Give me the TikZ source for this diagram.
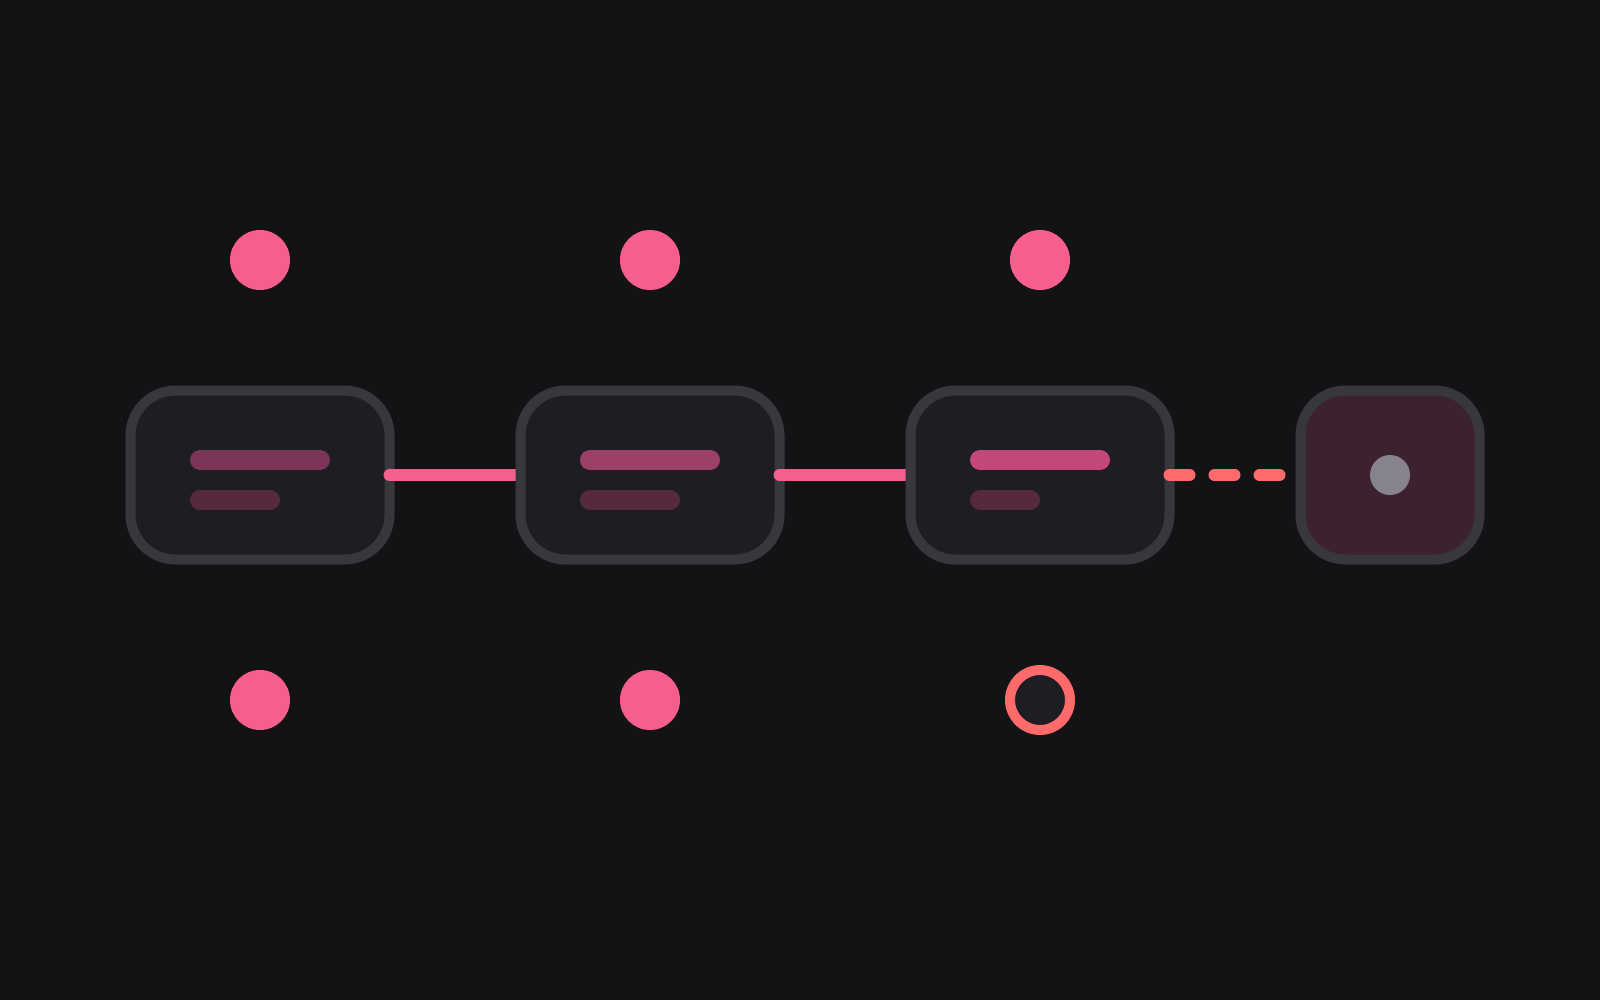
\documentclass[tikz,border=0pt]{standalone}
\usetikzlibrary{positioning}
\definecolor{bgdark}{HTML}{131315}
\definecolor{stagefill}{HTML}{1E1D23}
\definecolor{stageedge}{HTML}{38373D}
\definecolor{goalfill}{HTML}{3C2130}
\definecolor{tokenpink}{HTML}{F65F8C}
\definecolor{linkpink}{HTML}{F45F8B}
\definecolor{coral}{HTML}{FF6B6B}
\definecolor{barlow}{HTML}{7A3558}
\definecolor{barmid}{HTML}{9C4068}
\definecolor{barhigh}{HTML}{C4477C}
\definecolor{barfaint}{HTML}{56293F}
\definecolor{dotgrey}{HTML}{86838D}
\tikzset{
    stage/.style={
        draw=stageedge,
        fill=stagefill,
        line width=10pt,
        rounded corners=45pt,
        minimum width=259pt,
        minimum height=169pt,
        inner sep=0pt,
        outer sep=0pt,
    },
    goal/.style={
        stage,
        fill=goalfill,
        minimum width=179pt,
    },
    bar/.style={line width=20pt, line cap=round},
    link/.style={draw=linkpink, line width=12pt, line cap=round},
    pending/.style={link, draw=coral, dash pattern=on 20pt off 25pt},
    token/.style={
        circle,
        fill=tokenpink,
        minimum size=60pt,
        inner sep=0pt,
        outer sep=0pt,
    },
    ring/.style={
        token,
        fill=stagefill,
        draw=coral,
        line width=10pt,
    }
}

\begin{document}
\begin{tikzpicture}[x=1pt,y=-1pt]

\fill[bgdark] (0,0) rectangle (1600,1000);
\useasboundingbox (0,0) rectangle (1600,1000);

\tikzstyle{greydot} = [circle, fill=dotgrey, minimum size=40pt, inner sep=0pt]

\coordinate (c1) at (260,475);
\coordinate (c2) at (650,475);
\coordinate (c3) at (1040,475);
\coordinate (c4) at (1390,475);

% tokens above and below
\node[token] (t1) at (260,260) {};
\node[token] (t2) at (650,260) {};
\node[token] (t3) at (1040,260) {};
\node[token] (b1) at (260,700) {};
\node[token] (b2) at (650,700) {};
\node[ring] (b3) at (1040,700) {};

% stages
\node[stage] (s1) at (c1) {};
\draw[bar, draw=barlow] ([shift={(-60,-15)}]s1.center) -- ++(120,0);
\draw[bar, draw=barfaint] ([shift={(-60,25)}]s1.center) -- ++(70,0);
\draw[link] (s1.east) -- (c2);

\node[stage] (s2) at (c2) {};
\draw[bar, draw=barmid] ([shift={(-60,-15)}]s2.center) -- ++(120,0);
\draw[bar, draw=barfaint] ([shift={(-60,25)}]s2.center) -- ++(80,0);
\draw[link] (s2.east) -- (c3);

\node[stage] (s3) at (c3) {};
\draw[bar, draw=barhigh] ([shift={(-60,-15)}]s3.center) -- ++(120,0);
\draw[bar, draw=barfaint] ([shift={(-60,25)}]s3.center) -- ++(50,0);

\node[goal] (s4) at (c4) {};
\node[greydot] (g4) at (s4.center) {};
\draw[pending] (s3.east) -- (s4.west);

\end{tikzpicture}
\end{document}
